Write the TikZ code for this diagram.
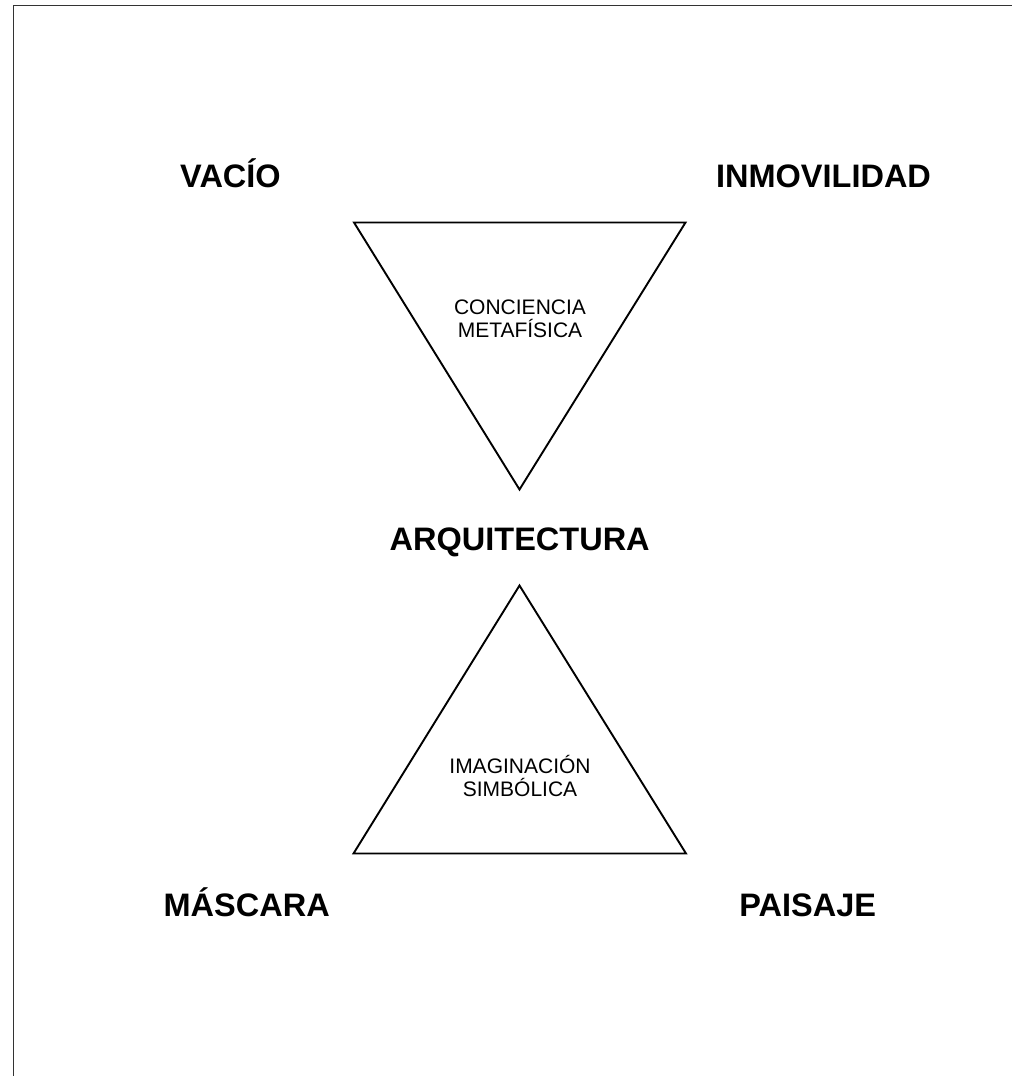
\documentclass[tikz,border=0pt]{standalone}
\usepackage{fontspec}
\setmainfont{Liberation Sans}
\begin{document}
\begin{tikzpicture}[x=1pt,y=-1pt,
  big/.style={font=\fontsize{32.5}{36}\selectfont\bfseries, inner sep=0pt, anchor=base},
  small/.style={font=\fontsize{21}{23.2}\selectfont, align=center, inner sep=0pt, anchor=base},
  tri/.style={draw=black, line width=1.9pt, line join=miter}]
\useasboundingbox (0,0) rectangle (1012,1076);
\draw[line width=1.9pt, draw=black!80] (13.5,1076) coordinate (bl) -- (13.5,5.5) coordinate (tl) -- (1012,5.5) coordinate (tr);
% upper triangle
\coordinate (u1) at (354,222.5);
\coordinate (u2) at (685.5,222.5);
\coordinate (u3) at (519.5,489.5);
\draw[tri] (u1) -- (u2) -- (u3) -- cycle;
% lower triangle
\coordinate (d1) at (519.5,585.5);
\coordinate (d2) at (686,853.5);
\coordinate (d3) at (353.5,853.5);
\draw[tri] (d1) -- (d2) -- (d3) -- cycle;
\node[small] (cm) at (520,337.3) {CONCIENCIA\\METAFÍSICA};
\node[small] (is) at (520,796.7) {IMAGINACIÓN\\SIMBÓLICA};
\node[big] (vacio) at (230.5,187.5) {VACÍO};
\node[big] (inmov) at (823.5,187.7) {INMOVILIDAD};
\node[big] (arq) at (519.7,550) {ARQUITECTURA};
\node[big] (masc) at (246.7,916.8) {MÁSCARA};
\node[big] (pais) at (807.7,916.8) {PAISAJE};
\end{tikzpicture}
\end{document}
